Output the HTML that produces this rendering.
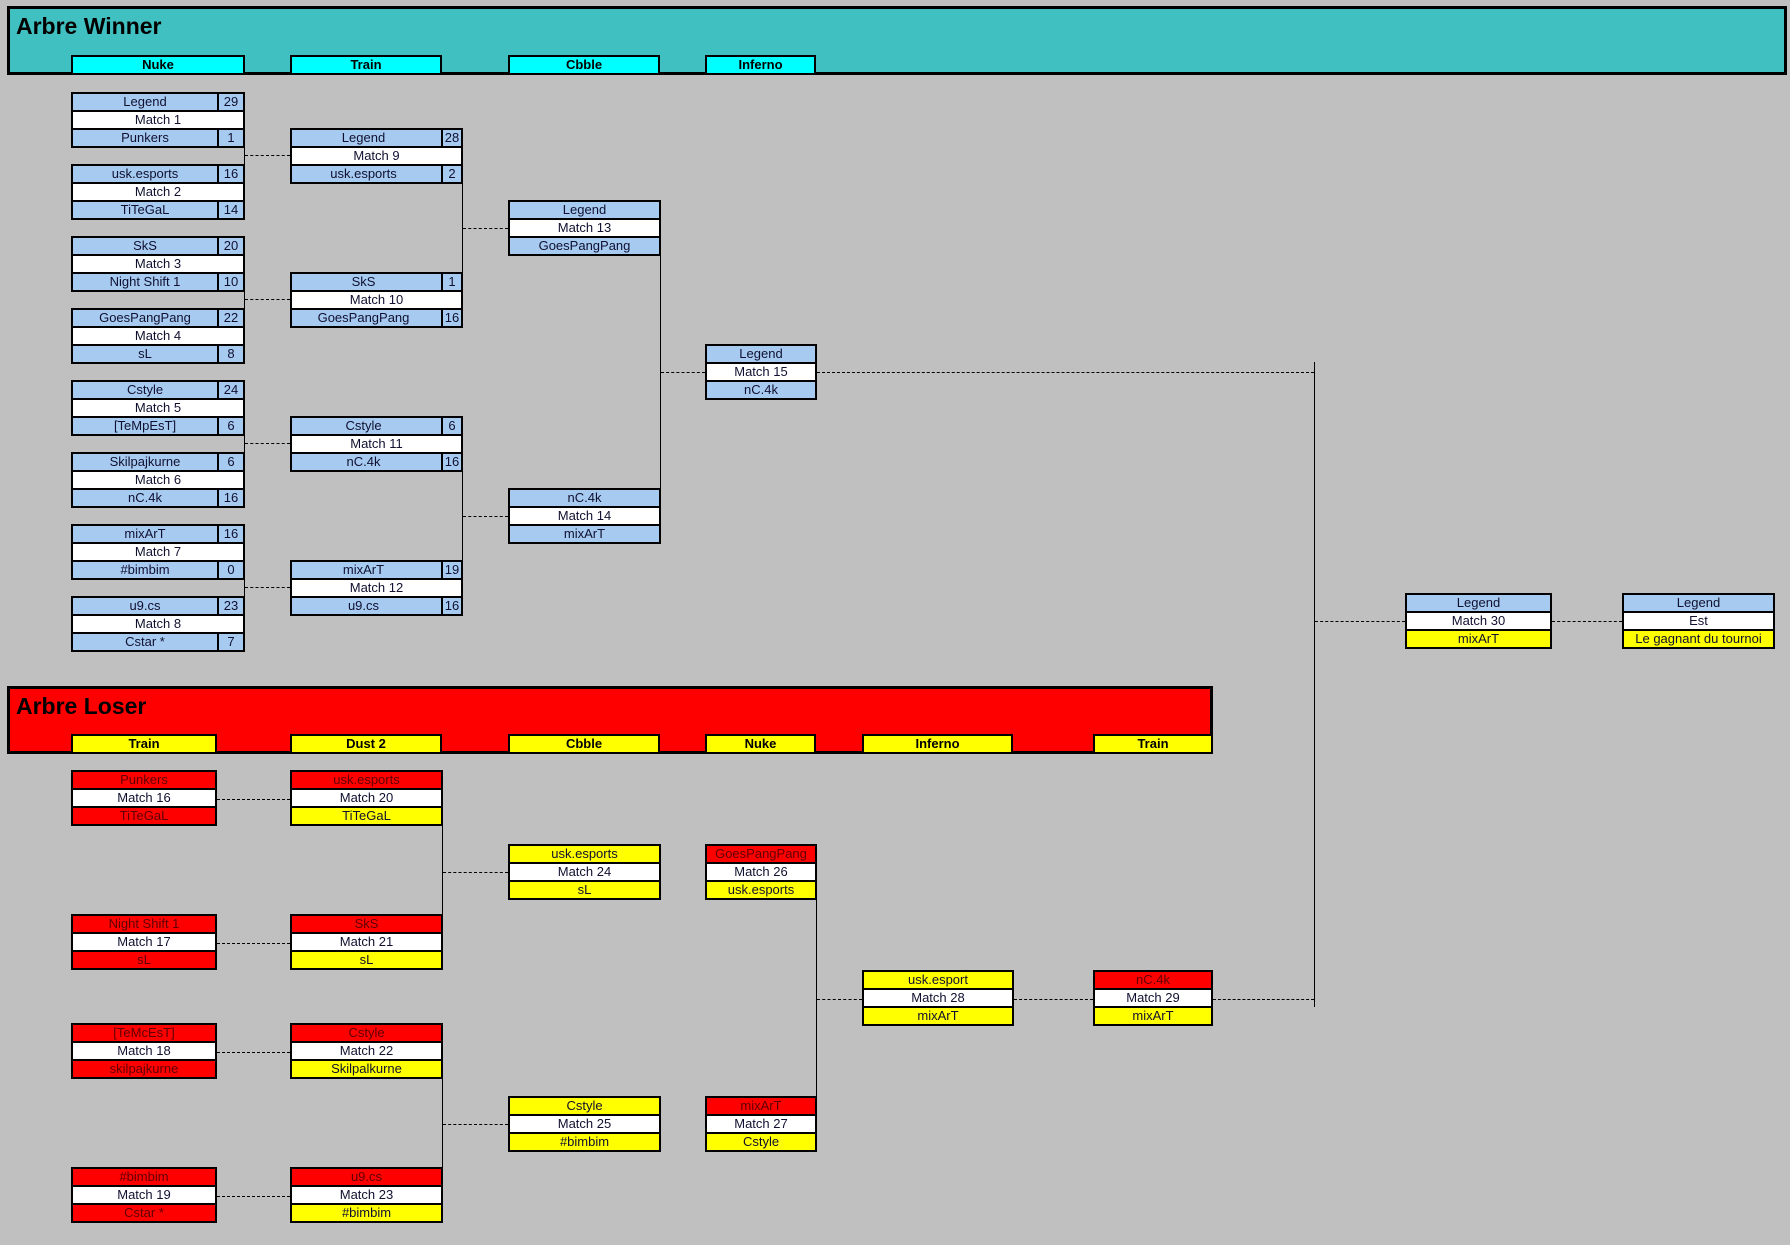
<!DOCTYPE html>
<html><head><meta charset="utf-8">
<style>
body{margin:0;width:1790px;height:1245px;background:#c0c0c0;position:relative;overflow:hidden;font-family:"Liberation Sans",Arial,sans-serif;}
.p{position:absolute}
.hd{position:absolute;border:3px solid #000;box-sizing:border-box}
.t{position:absolute;left:6px;top:4px;font-weight:bold;font-size:23px;color:#000}
.h{position:absolute;height:20px;box-sizing:border-box;border:2px solid #000;font-weight:bold;font-size:13px;text-align:center;line-height:16px;color:#000}
.b{position:absolute;border:2px solid #000;box-sizing:border-box;height:56px}
.r{height:16px;line-height:16px;text-align:center;font-size:13px;color:#101030;position:relative;white-space:nowrap;overflow:hidden}
.r+.r{border-top:2px solid #000}
.s{position:absolute;right:0;top:0;width:24px;height:16px;border-left:2px solid #000;text-align:center}
.n{padding-right:26px}
.bl{background:#a6caf0}.w{background:#fff}.rd{background:#ff0000;color:#600000}.y{background:#ffff00}
.dh{position:absolute;height:0;border-top:1px dashed #000}
.v{position:absolute;width:0;border-left:1px solid #000}
</style></head><body>
<div class="hd" style="left:7px;top:6px;width:1780px;height:69px;background:#40c0c0"><div class="t">Arbre Winner</div></div>
<div class="h" style="left:71px;top:55px;width:174px;background:#00ffff">Nuke</div>
<div class="h" style="left:290px;top:55px;width:152px;background:#00ffff">Train</div>
<div class="h" style="left:508px;top:55px;width:152px;background:#00ffff">Cbble</div>
<div class="h" style="left:705px;top:55px;width:111px;background:#00ffff">Inferno</div>

<!-- Winner round 1 -->
<div class="b" style="left:71px;top:92px;width:174px"><div class="r bl n">Legend<span class="s">29</span></div><div class="r w">Match 1</div><div class="r bl n">Punkers<span class="s">1</span></div></div>
<div class="b" style="left:71px;top:164px;width:174px"><div class="r bl n">usk.esports<span class="s">16</span></div><div class="r w">Match 2</div><div class="r bl n">TiTeGaL<span class="s">14</span></div></div>
<div class="b" style="left:71px;top:236px;width:174px"><div class="r bl n">SkS<span class="s">20</span></div><div class="r w">Match 3</div><div class="r bl n">Night Shift 1<span class="s">10</span></div></div>
<div class="b" style="left:71px;top:308px;width:174px"><div class="r bl n">GoesPangPang<span class="s">22</span></div><div class="r w">Match 4</div><div class="r bl n">sL<span class="s">8</span></div></div>
<div class="b" style="left:71px;top:380px;width:174px"><div class="r bl n">Cstyle<span class="s">24</span></div><div class="r w">Match 5</div><div class="r bl n">[TeMpEsT]<span class="s">6</span></div></div>
<div class="b" style="left:71px;top:452px;width:174px"><div class="r bl n">Skilpajkurne<span class="s">6</span></div><div class="r w">Match 6</div><div class="r bl n">nC.4k<span class="s">16</span></div></div>
<div class="b" style="left:71px;top:524px;width:174px"><div class="r bl n">mixArT<span class="s">16</span></div><div class="r w">Match 7</div><div class="r bl n">#bimbim<span class="s">0</span></div></div>
<div class="b" style="left:71px;top:596px;width:174px"><div class="r bl n">u9.cs<span class="s">23</span></div><div class="r w">Match 8</div><div class="r bl n">Cstar *<span class="s">7</span></div></div>

<!-- round 2 -->
<div class="b" style="left:290px;top:128px;width:173px"><div class="r bl n">Legend<span class="s" style="width:18px">28</span></div><div class="r w">Match 9</div><div class="r bl n">usk.esports<span class="s" style="width:18px">2</span></div></div>
<div class="b" style="left:290px;top:272px;width:173px"><div class="r bl n">SkS<span class="s" style="width:18px">1</span></div><div class="r w">Match 10</div><div class="r bl n">GoesPangPang<span class="s" style="width:18px">16</span></div></div>
<div class="b" style="left:290px;top:416px;width:173px"><div class="r bl n">Cstyle<span class="s" style="width:18px">6</span></div><div class="r w">Match 11</div><div class="r bl n">nC.4k<span class="s" style="width:18px">16</span></div></div>
<div class="b" style="left:290px;top:560px;width:173px"><div class="r bl n">mixArT<span class="s" style="width:18px">19</span></div><div class="r w">Match 12</div><div class="r bl n">u9.cs<span class="s" style="width:18px">16</span></div></div>

<div class="b" style="left:508px;top:200px;width:153px"><div class="r bl">Legend</div><div class="r w">Match 13</div><div class="r bl">GoesPangPang</div></div>
<div class="b" style="left:508px;top:488px;width:153px"><div class="r bl">nC.4k</div><div class="r w">Match 14</div><div class="r bl">mixArT</div></div>
<div class="b" style="left:705px;top:344px;width:112px"><div class="r bl">Legend</div><div class="r w">Match 15</div><div class="r bl">nC.4k</div></div>

<div class="b" style="left:1405px;top:593px;width:147px"><div class="r bl">Legend</div><div class="r w">Match 30</div><div class="r y">mixArT</div></div>
<div class="b" style="left:1622px;top:593px;width:153px"><div class="r bl">Legend</div><div class="r w">Est</div><div class="r y">Le gagnant du tournoi</div></div>

<!-- winner connectors -->
<div class="v" style="left:244px;top:146px;height:18px"></div><div class="dh" style="left:245px;top:155px;width:45px"></div>
<div class="v" style="left:244px;top:290px;height:18px"></div><div class="dh" style="left:245px;top:299px;width:45px"></div>
<div class="v" style="left:244px;top:434px;height:18px"></div><div class="dh" style="left:245px;top:443px;width:45px"></div>
<div class="v" style="left:244px;top:578px;height:18px"></div><div class="dh" style="left:245px;top:587px;width:45px"></div>
<div class="v" style="left:462px;top:182px;height:90px"></div><div class="dh" style="left:463px;top:228px;width:45px"></div>
<div class="v" style="left:462px;top:470px;height:90px"></div><div class="dh" style="left:463px;top:516px;width:45px"></div>
<div class="v" style="left:660px;top:254px;height:234px"></div><div class="dh" style="left:661px;top:372px;width:44px"></div>
<div class="dh" style="left:817px;top:372px;width:497px"></div>
<div class="v" style="left:1314px;top:362px;height:645px"></div>
<div class="dh" style="left:1315px;top:621px;width:90px"></div>
<div class="dh" style="left:1552px;top:621px;width:70px"></div>

<!-- Loser -->
<div class="hd" style="left:7px;top:686px;width:1206px;height:68px;background:#ff0000"><div class="t">Arbre Loser</div></div>
<div class="h" style="left:71px;top:734px;width:146px;background:#ffff00">Train</div>
<div class="h" style="left:290px;top:734px;width:152px;background:#ffff00">Dust 2</div>
<div class="h" style="left:508px;top:734px;width:152px;background:#ffff00">Cbble</div>
<div class="h" style="left:705px;top:734px;width:111px;background:#ffff00">Nuke</div>
<div class="h" style="left:862px;top:734px;width:151px;background:#ffff00">Inferno</div>
<div class="h" style="left:1093px;top:734px;width:120px;background:#ffff00">Train</div>

<div class="b" style="left:71px;top:770px;width:146px"><div class="r rd">Punkers</div><div class="r w">Match 16</div><div class="r rd">TiTeGaL</div></div>
<div class="b" style="left:71px;top:914px;width:146px"><div class="r rd">Night Shift 1</div><div class="r w">Match 17</div><div class="r rd">sL</div></div>
<div class="b" style="left:71px;top:1023px;width:146px"><div class="r rd">[TeMcEsT]</div><div class="r w">Match 18</div><div class="r rd">skilpajkurne</div></div>
<div class="b" style="left:71px;top:1167px;width:146px"><div class="r rd">#bimbim</div><div class="r w">Match 19</div><div class="r rd">Cstar *</div></div>

<div class="b" style="left:290px;top:770px;width:153px"><div class="r rd">usk.esports</div><div class="r w">Match 20</div><div class="r y">TiTeGaL</div></div>
<div class="b" style="left:290px;top:914px;width:153px"><div class="r rd">SkS</div><div class="r w">Match 21</div><div class="r y">sL</div></div>
<div class="b" style="left:290px;top:1023px;width:153px"><div class="r rd">Cstyle</div><div class="r w">Match 22</div><div class="r y">Skilpalkurne</div></div>
<div class="b" style="left:290px;top:1167px;width:153px"><div class="r rd">u9.cs</div><div class="r w">Match 23</div><div class="r y">#bimbim</div></div>

<div class="b" style="left:508px;top:844px;width:153px"><div class="r y">usk.esports</div><div class="r w">Match 24</div><div class="r y">sL</div></div>
<div class="b" style="left:508px;top:1096px;width:153px"><div class="r y">Cstyle</div><div class="r w">Match 25</div><div class="r y">#bimbim</div></div>
<div class="b" style="left:705px;top:844px;width:112px"><div class="r rd">GoesPangPang</div><div class="r w">Match 26</div><div class="r y">usk.esports</div></div>
<div class="b" style="left:705px;top:1096px;width:112px"><div class="r rd">mixArT</div><div class="r w">Match 27</div><div class="r y">Cstyle</div></div>
<div class="b" style="left:862px;top:970px;width:152px"><div class="r y">usk.esport</div><div class="r w">Match 28</div><div class="r y">mixArT</div></div>
<div class="b" style="left:1093px;top:970px;width:120px"><div class="r rd">nC.4k</div><div class="r w">Match 29</div><div class="r y">mixArT</div></div>

<!-- loser connectors -->
<div class="dh" style="left:217px;top:799px;width:73px"></div>
<div class="dh" style="left:217px;top:943px;width:73px"></div>
<div class="dh" style="left:217px;top:1052px;width:73px"></div>
<div class="dh" style="left:217px;top:1196px;width:73px"></div>
<div class="v" style="left:442px;top:825px;height:89px"></div><div class="dh" style="left:443px;top:872px;width:65px"></div>
<div class="v" style="left:442px;top:1078px;height:89px"></div><div class="dh" style="left:443px;top:1124px;width:65px"></div>
<div class="v" style="left:816px;top:899px;height:197px"></div><div class="dh" style="left:817px;top:999px;width:45px"></div>
<div class="dh" style="left:1014px;top:999px;width:79px"></div>
<div class="dh" style="left:1213px;top:999px;width:101px"></div>
</body></html>
